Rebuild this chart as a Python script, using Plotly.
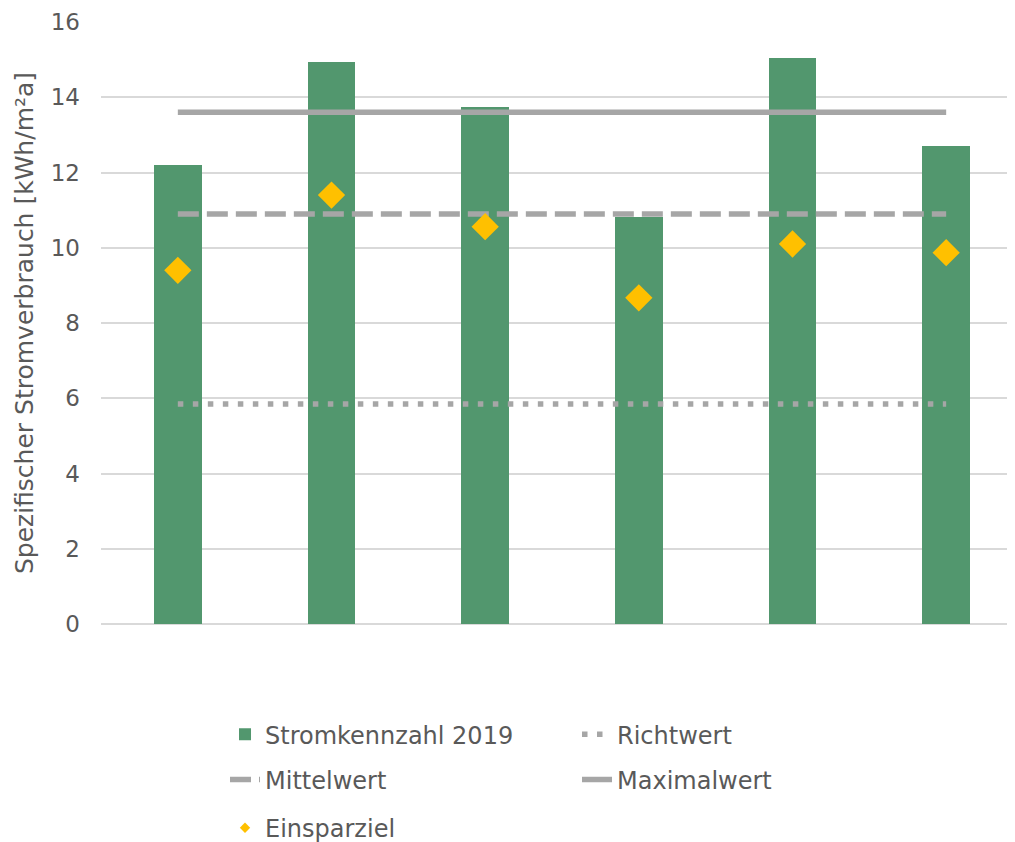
import plotly.graph_objects as go

categories = ["Objekt 1", "Objekt 2", "Objekt 3", "Objekt 4", "Objekt 5", "Objekt 6"]
stromkennzahl_2019 = [12.2, 14.95, 13.75, 10.82, 15.05, 12.7]
einsparziel = [9.4, 11.4, 10.56, 8.67, 10.1, 9.87]
richtwert = [5.85] * 6
mittelwert = [10.9] * 6
maximalwert = [13.6] * 6
y_ticks = [0, 2, 4, 6, 8, 10, 12, 14, 16]

FONT = "DejaVu Sans"
TXT = "#595959"
GRAY = "#A6A6A6"
GOLD = "#FFC000"

fig = go.Figure()
fig.add_trace(go.Bar(x=categories, y=stromkennzahl_2019, name="Stromkennzahl 2019",
                     marker=dict(color="#52976E", line=dict(width=0)), width=0.31,
                     legend="legend"))
fig.add_trace(go.Scatter(x=categories, y=richtwert, name="Richtwert", mode="lines",
                         line=dict(color=GRAY, width=5.5, dash="5.5px,9.5px"), legend="legend"))
fig.add_trace(go.Scatter(x=categories, y=mittelwert, name="Mittelwert", mode="lines",
                         line=dict(color=GRAY, width=5.5, dash="21px,8px"), legend="legend2"))
fig.add_trace(go.Scatter(x=categories, y=maximalwert, name="Maximalwert", mode="lines",
                         line=dict(color=GRAY, width=5.5), legend="legend2"))
fig.add_trace(go.Scatter(x=categories, y=einsparziel, name="Einsparziel", mode="markers",
                         marker=dict(symbol="diamond", size=21, color=GOLD),
                         showlegend=False))
# legend-only entry with the small diamond used in the reference legend
fig.add_trace(go.Scatter(x=[None], y=[None], name="Einsparziel", mode="markers",
                         marker=dict(symbol="diamond", size=8, color=GOLD),
                         legend="legend3"))

leg_common = dict(orientation="h", xanchor="left", yanchor="middle", x=0.1345,
                  entrywidth=307, traceorder="normal",
                  font=dict(family=FONT, size=24, color=TXT),
                  bgcolor="rgba(0,0,0,0)", borderwidth=0)

fig.update_layout(
    width=1015, height=842,
    margin=dict(l=93, r=0, t=14, b=226, autoexpand=False),
    paper_bgcolor="white", plot_bgcolor="white",
    font=dict(family=FONT, size=23, color=TXT),
    bargap=0,
    showlegend=True,
    legend=dict(**leg_common, y=-0.184),
    legend2=dict(**leg_common, y=-0.259),
    legend3=dict(**leg_common, y=-0.339),
    xaxis=dict(type="category", categoryorder="array", categoryarray=categories,
               showticklabels=False, showgrid=False, zeroline=False, showline=False,
               ticks="", range=[-0.5, 5.5], automargin=False),
    yaxis=dict(range=[0, 16], tickvals=y_ticks, showgrid=True, gridcolor="#D9D9D9",
               gridwidth=2, zeroline=True, zerolinecolor="#D9D9D9", zerolinewidth=2,
               showline=False, ticks="", ticklabelstandoff=20, automargin=False,
               tickfont=dict(family=FONT, size=23, color=TXT),
               title=dict(text="Spezifischer Stromverbrauch [kWh/m²a]",
                          font=dict(family=FONT, size=25, color=TXT), standoff=9)),
)

fig.write_html("out.html")
